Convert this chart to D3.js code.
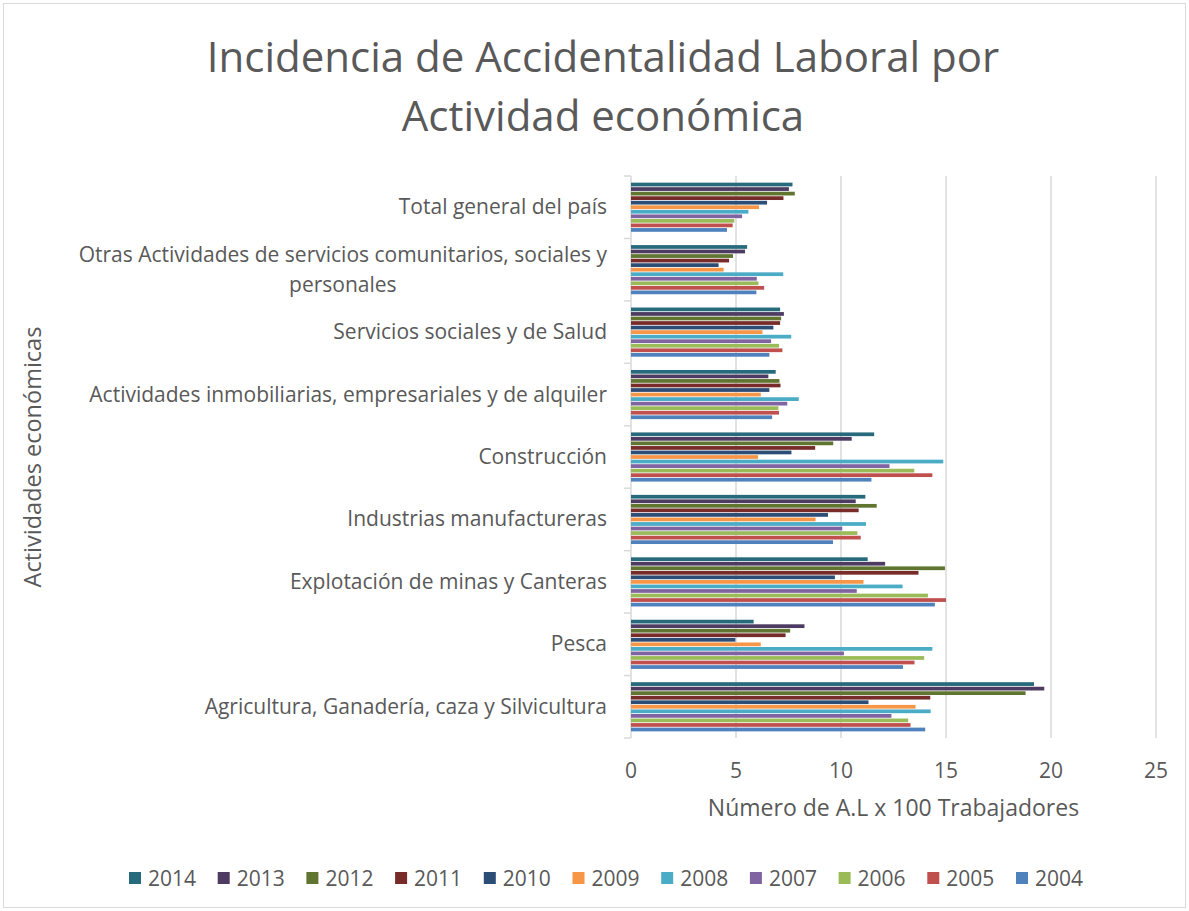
<!DOCTYPE html>
<html>
<head>
<meta charset="utf-8">
<script src="https://cdn.jsdelivr.net/npm/d3@7"></script>
<style>
  body { margin: 0; background: #fff; }
  text { font-family: "Open Sans", sans-serif; fill: #595959; }
</style>
</head>
<body>
<script>
// categorias de arriba hacia abajo
var categories = [
  "Total general del país",
  "Otras Actividades de servicios comunitarios, sociales y personales",
  "Servicios sociales y de Salud",
  "Actividades inmobiliarias, empresariales y de alquiler",
  "Construcción",
  "Industrias manufactureras",
  "Explotación de minas y Canteras",
  "Pesca",
  "Agricultura, Ganadería, caza y Silvicultura"
];

var years = ["2014", "2013", "2012", "2011", "2010", "2009", "2008", "2007", "2006", "2005", "2004"];
var colors = ["#276A7C", "#4D3B62", "#5F7530", "#772C2A", "#2C4D75", "#F79646", "#4BACC6", "#8064A2", "#9BBB59", "#C0504D", "#4F81BD"];

// valores en el mismo orden que categories
var v2014 = [7.69, 5.53, 7.10, 6.89, 11.58, 11.16, 11.27, 5.84, 19.19];
var v2013 = [7.52, 5.43, 7.28, 6.54, 10.51, 10.70, 12.10, 8.26, 19.68];
var v2012 = [7.80, 4.86, 7.15, 7.07, 9.63, 11.70, 14.95, 7.58, 18.79];
var v2011 = [7.26, 4.67, 7.10, 7.12, 8.77, 10.84, 13.69, 7.36, 14.25];
var v2010 = [6.48, 4.17, 6.78, 6.59, 7.64, 9.38, 9.71, 4.97, 11.31];
var v2009 = [6.10, 4.41, 6.26, 6.18, 6.05, 8.79, 11.07, 6.18, 13.55];
var v2008 = [5.59, 7.25, 7.63, 7.99, 14.87, 11.19, 12.93, 14.35, 14.27];
var v2007 = [5.29, 5.99, 6.67, 7.44, 12.31, 10.06, 10.75, 10.14, 12.40];
var v2006 = [4.92, 6.07, 7.05, 7.02, 13.49, 10.78, 14.14, 13.96, 13.20];
var v2005 = [4.84, 6.34, 7.21, 7.05, 14.35, 10.94, 15.00, 13.50, 13.31];
var v2004 = [4.57, 5.97, 6.59, 6.72, 11.45, 9.62, 14.47, 12.95, 14.01];

var xTicks = [0, 5, 10, 15, 20, 25];

var series = [v2014, v2013, v2012, v2011, v2010, v2009, v2008, v2007, v2006, v2005, v2004];

var screen = {width: 1189, height: 911};
var plot = {left: 631, right: 1156, top: 176, bottom: 738};

var svg = d3.select("body")
            .append("svg")
            .attr("width", screen.width)
            .attr("height", screen.height);

// borde del grafico
svg.append("rect")
   .attr("x", 3.5)
   .attr("y", 3.5)
   .attr("width", screen.width - 7)
   .attr("height", screen.height - 7)
   .attr("fill", "white")
   .attr("stroke", "#d9d9d9");

// titulo
var title = svg.append("text")
               .attr("text-anchor", "middle")
               .attr("font-size", 42);
title.append("tspan").attr("x", 603).attr("y", 72).text("Incidencia de Accidentalidad Laboral por");
title.append("tspan").attr("x", 603).attr("y", 131).text("Actividad económica");

var x = d3.scaleLinear()
          .domain([0, 25])
          .range([plot.left, plot.right]);

var y0 = d3.scaleBand()
           .domain(categories)
           .range([plot.top, plot.bottom])
           .paddingInner(0.2)
           .paddingOuter(0.1);

var y1 = d3.scaleBand()
           .domain(years)
           .range([0, y0.bandwidth()]);

// lineas de division
svg.append("g")
   .selectAll("line")
   .data(xTicks.slice(1))
   .enter()
   .append("line")
   .attr("x1", function(d) {return x(d);})
   .attr("x2", function(d) {return x(d);})
   .attr("y1", plot.top)
   .attr("y2", plot.bottom)
   .attr("stroke", "#d9d9d9")
   .attr("stroke-width", 1.5);

// eje vertical con marcas entre categorias
svg.append("line")
   .attr("x1", plot.left)
   .attr("x2", plot.left)
   .attr("y1", plot.top)
   .attr("y2", plot.bottom)
   .attr("stroke", "#d9d9d9")
   .attr("stroke-width", 1.5);

var step = y0.step();
svg.append("g")
   .selectAll("line")
   .data(d3.range(categories.length + 1))
   .enter()
   .append("line")
   .attr("x1", plot.left - 7)
   .attr("x2", plot.left)
   .attr("y1", function(d) {return plot.top + d * step;})
   .attr("y2", function(d) {return plot.top + d * step;})
   .attr("stroke", "#d9d9d9")
   .attr("stroke-width", 1.5);

// barras
var groups = svg.append("g")
                .selectAll("g")
                .data(series)
                .enter()
                .append("g")
                .attr("fill", function(d, i) {return colors[i];});

groups.each(function(vals, i) {
  d3.select(this)
    .selectAll("rect")
    .data(vals)
    .enter()
    .append("rect")
    .attr("x", x(0))
    .attr("y", function(d, j) {return y0(categories[j]) + y1(years[i]) + 0.4;})
    .attr("width", function(d) {return x(d) - x(0);})
    .attr("height", y1.bandwidth() - 0.8);
});

// etiquetas de categorias (con ajuste de linea)
var catLabels = svg.append("g")
                   .selectAll("text")
                   .data(categories)
                   .enter()
                   .append("text")
                   .attr("font-size", 21)
                   .attr("text-anchor", "middle");

var maxWidth = 570;
catLabels.each(function(d) {
  var t = d3.select(this);
  var words = d.split(" ");
  var lines = [];
  var line = [];
  var probe = t.append("tspan");
  words.forEach(function(w) {
    line.push(w);
    probe.text(line.join(" "));
    if (probe.node().getComputedTextLength() > maxWidth && line.length > 1) {
      line.pop();
      lines.push(line.join(" "));
      line = [w];
    }
  });
  lines.push(line.join(" "));
  probe.remove();

  var widths = lines.map(function(l) {
    var p = t.append("tspan").text(l);
    var wd = p.node().getComputedTextLength();
    p.remove();
    return wd;
  });
  var blockW = d3.max(widths);
  var cx = 607 - blockW / 2;
  var lineH = 30;
  var cy = y0(d) + y0.bandwidth() / 2;
  lines.forEach(function(l, k) {
    t.append("tspan")
     .attr("x", cx)
     .attr("y", cy + 7 + (k - (lines.length - 1) / 2) * lineH)
     .text(l);
  });
});

// etiquetas eje x
svg.append("g")
   .selectAll("text")
   .data(xTicks)
   .enter()
   .append("text")
   .attr("x", function(d) {return x(d);})
   .attr("y", 778)
   .attr("text-anchor", "middle")
   .attr("font-size", 21)
   .text(function(d) {return d;});

// titulos de ejes
svg.append("text")
   .attr("x", (plot.left + plot.right) / 2)
   .attr("y", 816)
   .attr("text-anchor", "middle")
   .attr("font-size", 23)
   .text("Número de A.L x 100 Trabajadores");

svg.append("text")
   .attr("transform", "translate(41," + ((plot.top + plot.bottom) / 2) + ") rotate(-90)")
   .attr("text-anchor", "middle")
   .attr("font-size", 23.5)
   .text("Actividades económicas");

// leyenda
var legend = svg.append("g")
                .selectAll("g")
                .data(years)
                .enter()
                .append("g")
                .attr("transform", function(d, i) {return "translate(" + (129 + i * 88.7) + ",872)";});

legend.append("rect")
      .attr("width", 12)
      .attr("height", 12)
      .attr("fill", function(d, i) {return colors[i];});

legend.append("text")
      .attr("x", 19)
      .attr("y", 14)
      .attr("font-size", 21)
      .text(function(d) {return d;});
</script>
</body>
</html>
